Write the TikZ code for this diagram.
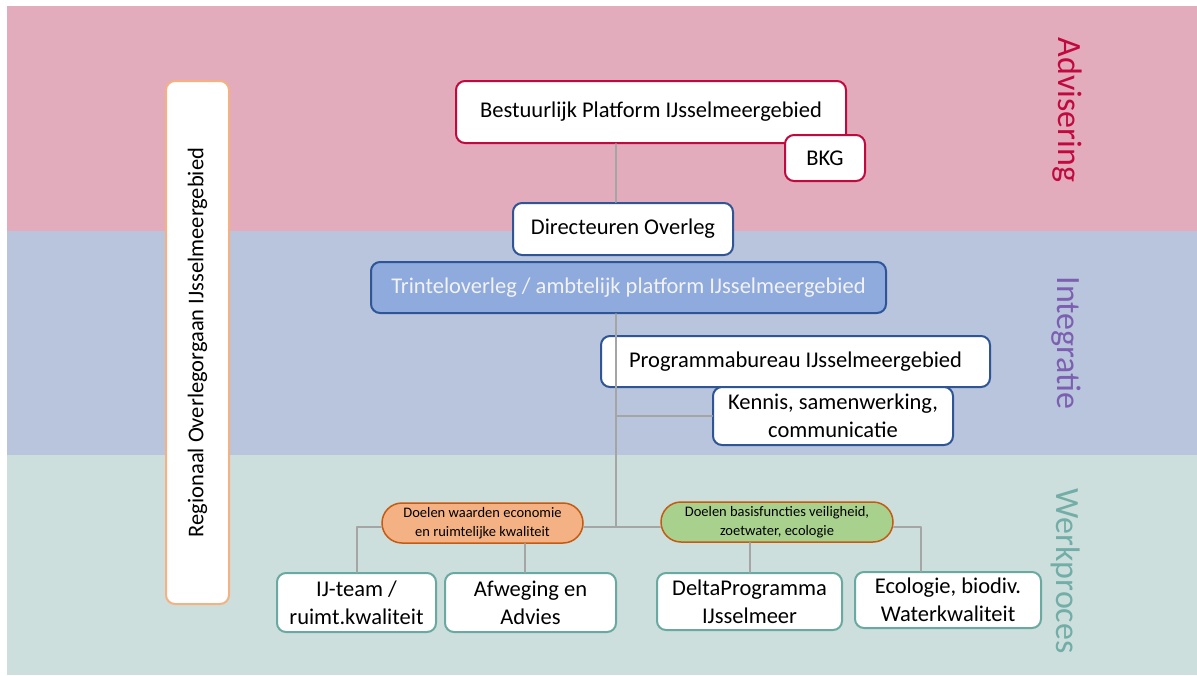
\documentclass[tikz,border=0pt]{standalone}
\usepackage{fontspec}
\setmainfont{Carlito}
\usetikzlibrary{shapes.misc}
\definecolor{pinkbg}{HTML}{E2ACBC}
\definecolor{bluebg}{HTML}{B8C5DD}
\definecolor{greenbg}{HTML}{CCDFDC}
\definecolor{redline}{HTML}{C0093F}
\definecolor{blueline}{HTML}{2F5597}
\definecolor{bluefill}{HTML}{8FAADC}
\definecolor{orangeline}{HTML}{F4B183}
\definecolor{brownline}{HTML}{C55A11}
\definecolor{greenfill}{HTML}{A9D18E}
\definecolor{tealline}{HTML}{6AA9A2}
\definecolor{grayline}{HTML}{A5A5A5}
\definecolor{purpletext}{HTML}{7C5FB0}
\definecolor{tealtext}{HTML}{72ADA7}
\tikzset{
  box/.style={draw,fill=white,rounded corners=9pt,line width=2pt,align=center,inner sep=0pt,
    font=\fontsize{22.5}{28}\selectfont},
  goal/.style={draw=brownline,rounded rectangle,line width=1.5pt,align=center,inner sep=0pt,
    font=\fontsize{14.5}{19}\selectfont},
  band/.style={rotate=-90,font=\fontsize{34}{36}\selectfont},
  link/.style={draw=grayline,line width=2pt}
}
\begin{document}
\begin{tikzpicture}[line cap=round,line join=round,x=1pt,y=-1pt]
\useasboundingbox (0,0) rectangle (1197,675);
\fill[white] (0,0) rectangle (1197,675);
\fill[pinkbg] (7,6) rectangle (1197,231);
\fill[bluebg] (7,231) rectangle (1197,455);
\fill[greenbg] (7,455) rectangle (1197,675);
\coordinate (spine) at (616,0);
\coordinate (hub) at (616,527);
%\draw[help lines,step=50] (0,0) grid (1197,675);
\node[box,draw=redline,minimum width=390,minimum height=62] (bestuur) at (651,112) {Bestuurlijk Platform IJsselmeergebied};
\node[box,draw=redline,minimum width=80,minimum height=46] (bkg) at (825,158) {BKG};
\node[box,draw=blueline,minimum width=220,minimum height=52] (dir) at (623,229) {Directeuren Overleg};
\node[box,draw=blueline,fill=bluefill,text=white!95!black,minimum width=515,minimum height=51] (trintel) at (628.5,287.5) {Trinteloverleg / ambtelijk platform IJsselmeergebied};
\node[box,draw=blueline,minimum width=389,minimum height=51] (prog) at (795.5,361.5) {Programmabureau IJsselmeergebied};
\node[box,draw=blueline,minimum width=240,minimum height=58] (kennis) at (833,416) {Kennis, samenwerking,\\communicatie};
\node[box,draw=orangeline,minimum width=63,minimum height=523] (roi) at (197.5,342.5) {};
\node[rotate=90,font=\fontsize{22.5}{27}\selectfont] at (roi.center) {Regionaal Overlegorgaan IJsselmeergebied};
\node[goal,fill=orangeline,minimum width=201,minimum height=40] (econ) at (482.5,523) {Doelen waarden economie\\en ruimtelijke kwaliteit};
\node[goal,fill=greenfill,minimum width=232,minimum height=40] (basis) at (777,522) {Doelen basisfuncties veiligheid,\\zoetwater, ecologie};
\node[box,draw=tealline,minimum width=159,minimum height=59] (ijteam) at (356.5,602.5) {IJ-team /\\ruimt.kwaliteit};
\node[box,draw=tealline,minimum width=171,minimum height=59] (afweg) at (530.5,602.5) {Afweging en\\Advies};
\node[box,draw=tealline,minimum width=185,minimum height=57] (delta) at (749.5,601.5) {DeltaProgramma\\IJsselmeer};
\node[box,draw=tealline,minimum width=186,minimum height=56] (eco) at (948,600) {Ecologie, biodiv.\\Waterkwaliteit};
% verbindingen
\draw[link] (bestuur.south -| spine) -- (dir.north -| spine);
\draw[link] (trintel.south -| spine) -- (hub);
\draw[link] (kennis.west) -- (kennis.west -| spine);
\draw[link] (econ.east |- hub) -- (basis.west |- hub);
\draw[link] (econ.west |- hub) -| (ijteam.north);
\draw[link] ([xshift=-6]econ.south -| afweg.north) -- ([xshift=-6]afweg.north);
\draw[link] (basis.south -| delta.north) -- (delta.north);
\draw[link] (basis.east |- hub) -| ([xshift=-27]eco.north);
\node[band,text=redline] (advies) at (1067,110) {Advisering};
\node[band,text=purpletext] (integr) at (1066,343) {Integratie};
\node[band,text=tealtext] (werk) at (1066,571) {Werkproces};
\end{tikzpicture}
\end{document}
